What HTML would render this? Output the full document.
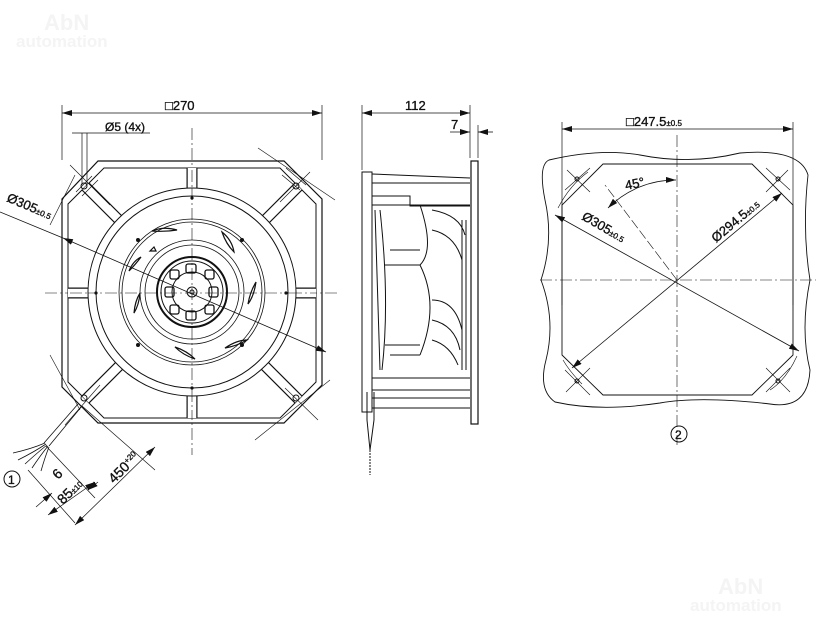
<!DOCTYPE html>
<html><head><meta charset="utf-8"><style>
html,body{margin:0;padding:0;background:#fff;}
svg{display:block;}
text{font-family:"Liberation Sans",sans-serif;fill:#111;stroke:#111;stroke-width:0.35;}
</style></head><body>
<svg width="816" height="624" viewBox="0 0 816 624" xmlns="http://www.w3.org/2000/svg">
<defs>
<marker id="a" viewBox="0 0 10 6" refX="10" refY="3" markerWidth="10" markerHeight="6" orient="auto-start-reverse" markerUnits="userSpaceOnUse"><path d="M0,0 L10,3 L0,6z" fill="#111"/></marker>
<clipPath id="ring"><path fill-rule="evenodd" d="M104,168 L280,168 L316,204 L316,382 L280,418 L104,418 L68,382 L68,204 Z M192,292 m-104,0 a104,104 0 1,0 208,0 a104,104 0 1,0 -208,0 Z"/></clipPath>
</defs>

<text x="44" y="30" font-size="22" font-weight="bold" style="fill:#f4f4f4;stroke:none">AbN</text>
<text x="16" y="47" font-size="17" font-weight="bold" style="fill:#f4f4f4;stroke:none">automation</text>
<text x="718" y="594" font-size="22" font-weight="bold" style="fill:#f4f4f4;stroke:none">AbN</text>
<text x="690" y="611" font-size="17" font-weight="bold" style="fill:#f4f4f4;stroke:none">automation</text>

<g stroke="#111" fill="none" stroke-width="1">
<!-- FRONT VIEW -->
<line x1="62" y1="105" x2="62" y2="160" stroke-width="0.7"/>
<line x1="322" y1="105" x2="322" y2="160" stroke-width="0.7"/>
<line x1="62" y1="113" x2="322" y2="113" marker-start="url(#a)" marker-end="url(#a)" stroke-width="0.8"/>
<line x1="72" y1="133" x2="150" y2="133" stroke-width="0.8"/>
<line x1="82" y1="133" x2="82" y2="185" stroke-width="0.7"/>
<line x1="87" y1="133" x2="87" y2="185" stroke-width="0.7"/>
<line x1="192" y1="128" x2="192" y2="455" stroke-width="0.6" stroke-dasharray="12,3,2,3"/>
<line x1="45" y1="293" x2="338" y2="293" stroke-width="0.6" stroke-dasharray="12,3,2,3"/>
<path d="M98,161 L284,161 L322,199 L322,385 L284,423 L98,423 L62,387 L62,199 Z" stroke-width="1.2"/>
<path d="M104,168 L280,168 L316,204 L316,382 L280,418 L104,418 L68,382 L68,204 Z"/>
<g clip-path="url(#ring)">
<g stroke-width="11">
<line x1="192" y1="150" x2="192" y2="440"/><line x1="50" y1="293" x2="340" y2="293"/>
<line x1="60" y1="161" x2="324" y2="425"/><line x1="324" y1="161" x2="60" y2="425"/>
</g>
<g stroke-width="8.6" stroke="#fff">
<line x1="192" y1="150" x2="192" y2="440"/><line x1="50" y1="293" x2="340" y2="293"/>
<line x1="60" y1="161" x2="324" y2="425"/><line x1="324" y1="161" x2="60" y2="425"/>
</g>
<line x1="192" y1="150" x2="192" y2="440" stroke-width="0.6" stroke-dasharray="12,3,2,3"/>
<line x1="50" y1="293" x2="340" y2="293" stroke-width="0.6" stroke-dasharray="12,3,2,3"/>
</g>
<circle cx="192" cy="292" r="104"/>
<circle cx="192" cy="292" r="96"/>
<circle cx="192" cy="292" r="73" stroke-width="0.8"/>
<circle cx="192" cy="292" r="70" stroke-width="0.8"/>
<circle cx="192" cy="292" r="52" stroke-width="0.8"/>
<circle cx="192" cy="292" r="47" stroke-width="0.8"/>
<circle cx="192" cy="292" r="35" stroke-width="2"/>
<circle cx="192" cy="292" r="31"/>
<circle cx="192" cy="292" r="20"/>
<circle cx="192" cy="292" r="5"/>
<circle cx="192" cy="292" r="2"/>
<g stroke-width="1.3">
<rect x="186" y="264" width="10" height="9" rx="2"/><rect x="186" y="311" width="10" height="9" rx="2"/>
<rect x="165" y="287" width="9" height="10" rx="2"/><rect x="209" y="287" width="9" height="10" rx="2"/>
<rect x="170" y="270" width="9" height="9" rx="2"/><rect x="205" y="270" width="9" height="9" rx="2"/>
<rect x="170" y="305" width="9" height="9" rx="2"/><rect x="205" y="305" width="9" height="9" rx="2"/>
</g>
<g stroke-width="1.2">
<path d="M152,231 q12,-5 25,-1 q-12,2 -25,1z"/>
<path d="M222,232 q10,8 12,20 q-8,-8 -12,-20z"/>
<path d="M256,282 q-2,14 -8,22 q2,-12 8,-22z"/>
<path d="M225,348 q12,-8 22,-8 q-10,6 -22,8z"/>
<path d="M175,347 q12,4 20,12 q-12,-4 -20,-12z"/>
<path d="M134,313 q1,-12 6,-20 q-1,12 -6,20z"/>
<path d="M129,271 q4,-10 12,-14 q-6,8 -12,14z"/>
<path d="M150,251 l4,-4 l2,4z"/>
</g>
<g fill="#111" stroke="none">
<circle cx="138" cy="240" r="2"/><circle cx="242" cy="240" r="2"/><circle cx="242" cy="345" r="2"/><circle cx="138" cy="345" r="2"/>
<circle cx="192" cy="198" r="1.6"/><circle cx="192" cy="388" r="1.6"/><circle cx="96" cy="293" r="1.6"/><circle cx="286" cy="293" r="1.6"/>
</g>
<circle cx="84" cy="186" r="3"/><circle cx="296" cy="186" r="3"/><circle cx="84" cy="398" r="3"/><circle cx="296" cy="398" r="3"/>
<path d="M92,176 L76,192 M98,180 L82,196" stroke-width="0.7"/>
<path d="M306,185 L286,168 M300,190 L282,175" stroke-width="0.7"/>
<g stroke-width="0.6">
<line x1="50" y1="225" x2="75" y2="175"/><line x1="258" y1="148" x2="335" y2="200"/>
<line x1="50" y1="355" x2="80" y2="410"/><line x1="255" y1="440" x2="330" y2="380"/>
<line x1="70" y1="165" x2="110" y2="205"/><line x1="310" y1="172" x2="280" y2="202"/>
<line x1="65" y1="425" x2="100" y2="385"/><line x1="318" y1="420" x2="285" y2="388"/>
</g>
<line x1="63" y1="238" x2="326" y2="352" marker-start="url(#a)" marker-end="url(#a)" stroke-width="0.8"/>
<line x1="0" y1="212" x2="63" y2="238" stroke-width="0.8"/>

<!-- cable -->
<path d="M78,404 L44,443 M82,406 L49,446" stroke-width="0.8"/>
<path d="M45,443 q-14,6 -32,10 M46,444 q-12,8 -28,16 M47,445 q-10,8 -22,19 M48,446 q-8,10 -16,22 M49,447 q-4,10 -8,24" stroke-width="0.8"/>
<g stroke-width="0.7">
<line x1="28" y1="470" x2="75" y2="523"/>
<line x1="46" y1="446" x2="95" y2="498"/>
<line x1="82" y1="406" x2="155" y2="470"/>
<line x1="36" y1="507" x2="52" y2="493" marker-end="url(#a)"/>
<line x1="98" y1="482" x2="88" y2="490" marker-end="url(#a)"/>
<line x1="95" y1="482" x2="48" y2="515" marker-start="url(#a)" marker-end="url(#a)"/>
<line x1="75" y1="525" x2="155" y2="447" marker-start="url(#a)" marker-end="url(#a)"/>
</g>
<circle cx="12" cy="479" r="8"/>

<!-- SIDE VIEW -->
<line x1="362" y1="105" x2="362" y2="170" stroke-width="0.7"/>
<line x1="470" y1="105" x2="470" y2="158" stroke-width="0.7"/>
<line x1="478" y1="125" x2="478" y2="158" stroke-width="0.7"/>
<line x1="362" y1="113" x2="470" y2="113" marker-start="url(#a)" marker-end="url(#a)" stroke-width="0.8"/>
<line x1="450" y1="132" x2="470" y2="132" marker-end="url(#a)" stroke-width="0.8"/>
<line x1="493" y1="132" x2="478" y2="132" marker-end="url(#a)" stroke-width="0.8"/>
<rect x="471" y="161" width="7" height="263" stroke-width="1.2"/>
<path d="M362,172 L372,172 L372,412 L362,412 Z"/>
<path d="M372,174 L470,178 M372,183 L470,183 M372,196 L410,196 L410,206 L470,206 M372,205 L470,205"/>
<path d="M372,378 L470,378 M372,390 L410,390 L470,390 M372,398 L470,398 M372,408 L470,408"/>
<path d="M375,210 L380,370 M380,210 Q390,300 382,370"/>
<path d="M390,250 L420,250 M385,265 L420,265 M420,205 Q435,250 420,265 Q440,305 420,355 M390,355 L420,355 M385,345 L420,345"/>
<path d="M432,210 Q460,215 465,235 M432,230 Q455,235 462,260 M432,300 Q455,300 462,330 M432,320 Q455,325 460,350 M432,340 Q450,345 458,365"/>
<line x1="462" y1="220" x2="462" y2="370"/>
<line x1="466" y1="220" x2="466" y2="370"/>
<path d="M367,392 L367,420 M374,392 L374,420 M367,420 L370,450 L374,420"/>
<line x1="370" y1="450" x2="370" y2="475" stroke-dasharray="2,1"/>

<!-- RIGHT VIEW -->
<line x1="562" y1="122" x2="562" y2="305" stroke-width="0.7"/>
<line x1="793" y1="122" x2="793" y2="305" stroke-width="0.7"/>
<line x1="562" y1="129" x2="793" y2="129" marker-start="url(#a)" marker-end="url(#a)" stroke-width="0.8"/>
<path d="M549,160 Q600,148 640,155 Q690,165 740,153 Q800,148 808,175 Q802,230 810,280 Q800,330 810,370 Q808,410 770,404 Q700,396 660,403 Q600,412 555,402 Q538,390 546,360 Q556,320 541,280 Q554,240 545,200 Q538,165 549,160 Z" stroke-width="0.9"/>
<path d="M603,164 L752,164 L793,205 L793,355 L752,395 L603,395 L562,355 L562,205 Z" stroke-width="0.9"/>
<line x1="677" y1="135" x2="677" y2="445" stroke-width="0.6" stroke-dasharray="12,3,2,3"/>
<line x1="540" y1="280" x2="816" y2="280" stroke-width="0.6" stroke-dasharray="12,3,2,3"/>
<g stroke-width="0.6">
<line x1="567" y1="170" x2="590" y2="192"/><line x1="590" y1="168" x2="565" y2="190"/>
<line x1="766" y1="168" x2="790" y2="190"/><line x1="788" y1="170" x2="766" y2="192"/>
<line x1="565" y1="370" x2="590" y2="395"/><line x1="590" y1="368" x2="566" y2="392"/>
<line x1="766" y1="368" x2="790" y2="392"/><line x1="790" y1="368" x2="766" y2="392"/>
<line x1="677" y1="280" x2="605" y2="185" stroke-dasharray="10,3"/>
<path d="M558,208 Q570,185 588,172 M797,356 Q786,380 770,390 M582,384 Q570,372 563,360" />
</g>
<circle cx="577" cy="179" r="2"/><circle cx="778" cy="179" r="2"/><circle cx="577" cy="381" r="2"/><circle cx="778" cy="381" r="2"/>
<line x1="555" y1="215" x2="799" y2="351" marker-start="url(#a)" marker-end="url(#a)" stroke-width="0.8"/>
<line x1="572" y1="368" x2="782" y2="193" marker-start="url(#a)" marker-end="url(#a)" stroke-width="0.8"/>
<path d="M608,208 A95,95 0 0 1 676,180" marker-start="url(#a)" marker-end="url(#a)" stroke-width="0.8"/>
<circle cx="679" cy="434" r="8"/>
</g>

<text x="165" y="110" font-size="13">□270</text>
<text x="105" y="131" font-size="12">Ø5 (4x)</text>
<text x="405" y="110" font-size="13">112</text>
<text x="451" y="129" font-size="13">7</text>
<text x="626" y="126" font-size="13">□247.5<tspan font-size="8">±0.5</tspan></text>
<text transform="translate(6,201) rotate(23)" font-size="13">Ø305<tspan font-size="8">±0.5</tspan></text>
<text transform="translate(581,219) rotate(30)" font-size="13">Ø305<tspan font-size="8">±0.5</tspan></text>
<text transform="translate(716,243) rotate(-40)" font-size="13">Ø294.5<tspan font-size="8">±0.5</tspan></text>
<text transform="translate(626,190) rotate(-12)" font-size="13">45°</text>
<text x="8" y="484" font-size="12">1</text>
<text x="675" y="439" font-size="12">2</text>
<text transform="translate(58,480) rotate(-45)" font-size="14">6</text>
<text transform="translate(63,505) rotate(-45)" font-size="14">85<tspan font-size="8">±10</tspan></text>
<text transform="translate(114,484) rotate(-45)" font-size="14">450<tspan font-size="8" dy="-5">+20</tspan></text>
</svg>
</body></html>
